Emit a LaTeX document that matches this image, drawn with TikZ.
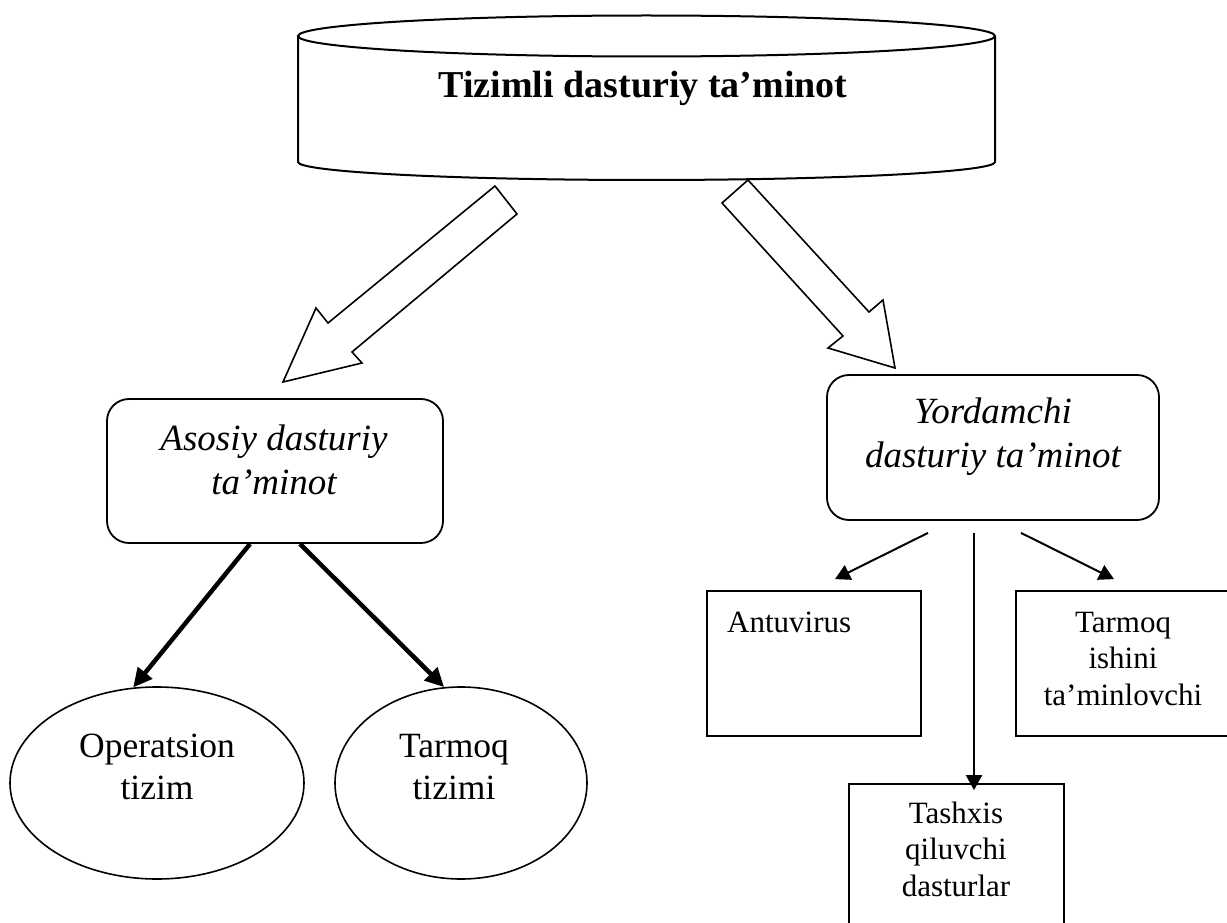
\documentclass[tikz,border=0pt]{standalone}
\usepackage{fontspec}
\setmainfont{Liberation Serif}
\usetikzlibrary{arrows.meta,shapes.geometric,calc}
\begin{document}
\begin{tikzpicture}[x=1pt,y=-1pt,
  cyl/.style={line width=2pt},
  hollow/.style={draw,line width=1.6pt,line join=miter},
  rbox/.style={draw,line width=1.8pt,rounded corners=22pt,inner sep=0pt},
  sbox/.style={draw,line width=1.8pt,inner sep=0pt},
  ell/.style={draw,ellipse,line width=1.6pt,inner sep=0pt},
  itext/.style={inner sep=0pt,align=center,font=\fontsize{37}{43.5}\selectfont\itshape},
  etext/.style={inner sep=0pt,align=center,font=\fontsize{35.5}{42}\selectfont},
  btext/.style={inner sep=0pt,align=center,font=\fontsize{31}{36.5}\selectfont},
  thick arrow/.style={line width=4.5pt,-{Triangle[length=19pt,width=18pt]}},
  thin arrow/.style={line width=2pt,-{Triangle[length=15pt,width=16pt]}}
]
\useasboundingbox (0,0) rectangle (1227,923);
\clip (0,0) rectangle (1227,923);
\fill[white] (0,0) rectangle (1227,923);

% cylinder
\draw[cyl] (298,37) -- (298,162) arc[start angle=180,end angle=0,x radius=348.5,y radius=18] -- (995,37);
\draw[cyl] (646.5,36) ellipse[x radius=348.5,y radius=20.5];
\node[inner sep=0pt,anchor=base,font=\fontsize{38}{44}\selectfont\bfseries] (title) at (643,98) {Tizimli dasturiy ta’minot};

% hollow block arrows
\draw[hollow] (495,186) -- (517,214) -- (352,352) -- (362,363) -- (283,382) -- (316,308) -- (328,323) -- cycle;
\draw[hollow] (748,180) -- (869,312) -- (883,300) -- (895,368) -- (828,348) -- (843,336) -- (722,203) -- cycle;

% second level boxes
\node[rbox,minimum width=336pt,minimum height=144pt] (asosiy) at (275,471) {};
\node[itext,anchor=north] (asosiyT) at (274,424.7) {Asosiy dasturiy\\ta’minot};
\node[rbox,minimum width=332pt,minimum height=145pt] (yord) at (993,447.5) {};
\node[itext,anchor=north] (yordT) at (993,397.7) {Yordamchi\\dasturiy ta’minot};

% ellipses
\node[ell,minimum width=294pt,minimum height=192pt] (op) at (157,783) {};
\node[etext,anchor=north] (opT) at (157,733.8) {Operatsion\\tizim};
\node[ell,minimum width=252pt,minimum height=192pt] (tt) at (461,783) {};
\node[etext,anchor=north] (ttT) at (454,734.5) {Tarmoq\\tizimi};

\draw[thick arrow] ($(asosiy.south)+(-25,0)$) -- (op.104.7);
\draw[thick arrow] ($(asosiy.south)+(25,0)$) -- (tt.100.7);

% right boxes
\node[sbox,minimum width=214pt,minimum height=145pt] (anti) at (814,663.5) {};
\node[btext,anchor=base west] (antiT) at (727,632) {Antuvirus};
\node[sbox,minimum width=216pt,minimum height=145pt] (tish) at (1124,663.5) {};
\node[btext,anchor=north] (tishT) at (1123,611.5) {Tarmoq\\ishini\\ta’minlovchi};
\node[sbox,minimum width=215pt,minimum height=145pt] (tash) at (956.5,856.5) {};
\node[btext,anchor=north] (tashT) at (956,801.5) {Tashxis\\qiluvchi\\dasturlar};

\coordinate (s1) at ($(yord.south)+(-65,12)$);
\coordinate (s2) at ($(yord.south)+(-19,12)$);
\coordinate (s3) at ($(yord.south)+(28,12)$);
\coordinate (e1) at ($(anti.north)+(21,-11)$);
\coordinate (e3) at ($(tish.north)+(-10,-11)$);
\draw[thin arrow] (s1) -- (e1);
\draw[thin arrow] (s2) -- (s2 |- tash.north) -- ++(0,7);
\draw[thin arrow] (s3) -- (e3);
\end{tikzpicture}
\end{document}
